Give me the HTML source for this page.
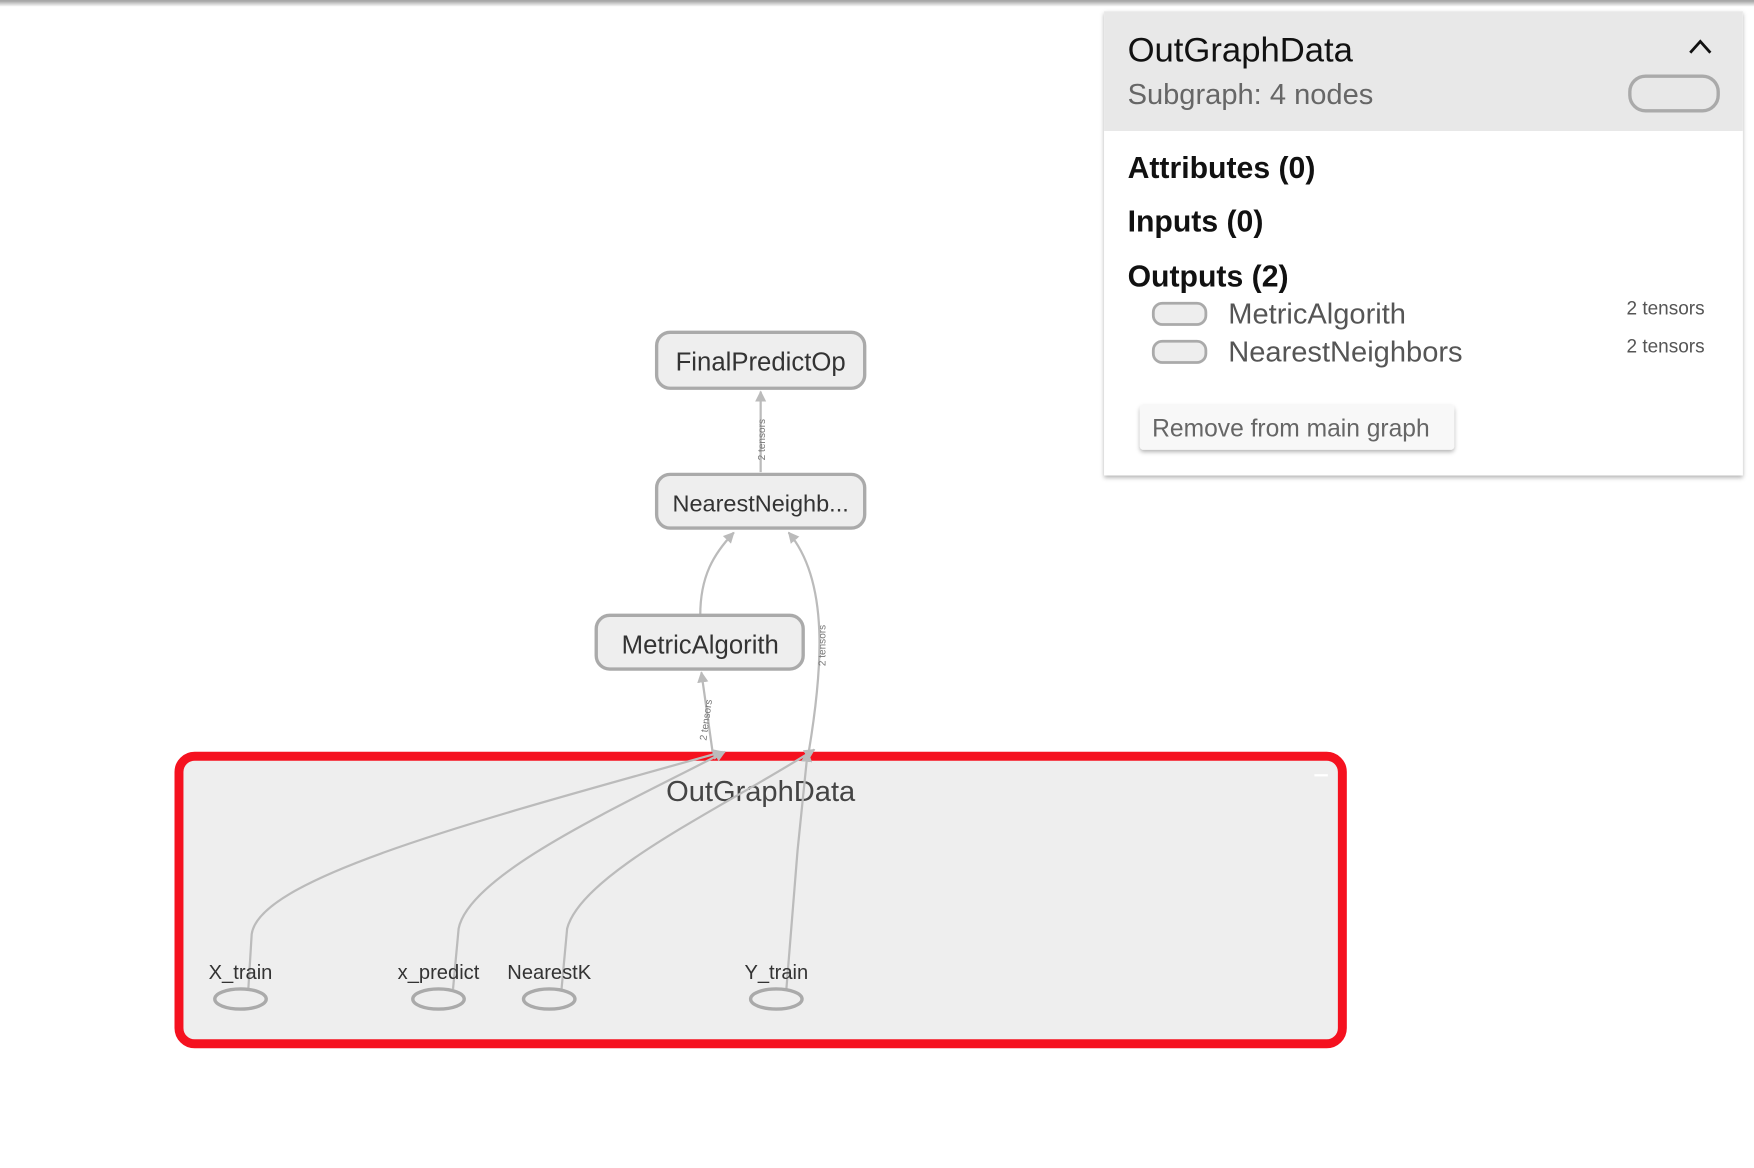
<!DOCTYPE html>
<html><head><meta charset="utf-8"><style>
html,body{margin:0;padding:0;background:#fff;width:1754px;height:1168px;overflow:hidden}
svg{display:block}
text{font-family:"Liberation Sans",sans-serif}
</style></head><body>
<svg width="1754" height="1168" viewBox="0 0 1568 1044" xmlns="http://www.w3.org/2000/svg">
<defs>
<linearGradient id="tb" x1="0" y1="0" x2="0" y2="1"><stop offset="0" stop-color="#999"/><stop offset="1" stop-color="#fff"/></linearGradient>
<marker id="ar" viewBox="0 0 10 10" refX="9" refY="5" markerWidth="5" markerHeight="5" orient="auto"><path d="M0,0 L10,5 L0,10 z" fill="#bbb"/></marker>
<filter id="sh" x="-5%" y="-5%" width="110%" height="120%"><feDropShadow dx="0" dy="2" stdDeviation="2" flood-color="#000" flood-opacity="0.3"/></filter>
</defs>
<rect x="0" y="0" width="1568" height="6" fill="url(#tb)"/>
<!-- edges -->
<g fill="none" stroke="#bbb" stroke-width="2">
<path d="M680,422 L680,350" marker-end="url(#ar)"/>
<path d="M626,550 C626,515 638,495 656,476" marker-end="url(#ar)"/>
<path d="M723,672 C735,600 742,520 705,476" marker-end="url(#ar)"/>
<path d="M637,672 L627,601" marker-end="url(#ar)"/>
</g>
<text transform="translate(684,393) rotate(-90)" font-size="9" fill="#777" text-anchor="middle">2 tensors</text>
<text transform="translate(738,577) rotate(-90)" font-size="9" fill="#777" text-anchor="middle">2 tensors</text>
<text transform="translate(634,644) rotate(-82)" font-size="9" fill="#777" text-anchor="middle">2 tensors</text>
<!-- nodes -->
<g fill="#eee" stroke="#aaa" stroke-width="3">
<rect x="587" y="297" width="186" height="50" rx="12"/>
<rect x="587" y="424" width="186" height="48" rx="12"/>
<rect x="533" y="550" width="185" height="48" rx="12"/>
</g>
<g font-size="23" fill="#333" text-anchor="middle">
<text x="680" y="331">FinalPredictOp</text>
<text x="680" y="457" font-size="21">NearestNeighb...</text>
<text x="626" y="584">MetricAlgorith</text>
</g>
<!-- red box -->
<rect x="160" y="676" width="1040" height="257" rx="14" fill="#eee" stroke="#f5111f" stroke-width="8"/>
<rect x="1175" y="692" width="12" height="2" fill="#fff"/>
<text x="680" y="716" font-size="26" fill="#444" text-anchor="middle">OutGraphData</text>
<g fill="none" stroke="#bbb" stroke-width="2">
<path d="M222,884 L225,835 C232,785 420,735 646,672" marker-end="url(#ar)"/>
<path d="M405,884 L410,830 C420,780 560,718 648,672" marker-end="url(#ar)"/>
<path d="M502,884 L507,830 C520,780 650,720 728,670" marker-end="url(#ar)"/>
<path d="M703,884 L713,760 L722,672" marker-end="url(#ar)"/>
</g>
<g fill="#eee" stroke="#aaa" stroke-width="3">
<ellipse cx="215" cy="893" rx="23" ry="9"/>
<ellipse cx="392" cy="893" rx="23" ry="9"/>
<ellipse cx="491" cy="893" rx="23" ry="9"/>
<ellipse cx="694" cy="893" rx="23" ry="9"/>
</g>
<g font-size="18" fill="#333" text-anchor="middle">
<text x="215" y="875">X_train</text>
<text x="392" y="875">x_predict</text>
<text x="491" y="875">NearestK</text>
<text x="694" y="875">Y_train</text>
</g>
<!-- panel -->
<g filter="url(#sh)"><rect x="987" y="10" width="571" height="415" fill="#fff"/></g>
<rect x="987" y="10" width="571" height="107" fill="#e8e8e8"/>
<text x="1008" y="55" font-size="31" fill="#111">OutGraphData</text>
<text x="1008" y="93" font-size="26" fill="#666">Subgraph: 4 nodes</text>
<path d="M1511,47 L1520,37 L1529,47" fill="none" stroke="#111" stroke-width="2.5"/>
<rect x="1457" y="68" width="79" height="31" rx="14" fill="#e8e8e8" stroke="#aaa" stroke-width="3"/>
<g font-size="27" font-weight="bold" fill="#111">
<text x="1008" y="159">Attributes (0)</text>
<text x="1008" y="207">Inputs (0)</text>
<text x="1008" y="256">Outputs (2)</text>
</g>
<g fill="#eee" stroke="#aaa" stroke-width="2.5">
<rect x="1031" y="271" width="47" height="19" rx="8"/>
<rect x="1031" y="305" width="47" height="19" rx="8"/>
</g>
<text x="1098" y="289" font-size="26" fill="#555">MetricAlgorith</text>
<text x="1098" y="323" font-size="26" fill="#555">NearestNeighbors</text>
<text x="1454" y="281" font-size="17" fill="#555">2 tensors</text>
<text x="1454" y="315" font-size="17" fill="#555">2 tensors</text>
<g filter="url(#sh)"><rect x="1019" y="362" width="281" height="40" rx="3" fill="#f8f8f8"/></g>
<text x="1030" y="390" font-size="22" fill="#666">Remove from main graph</text>
</svg>
</body></html>
